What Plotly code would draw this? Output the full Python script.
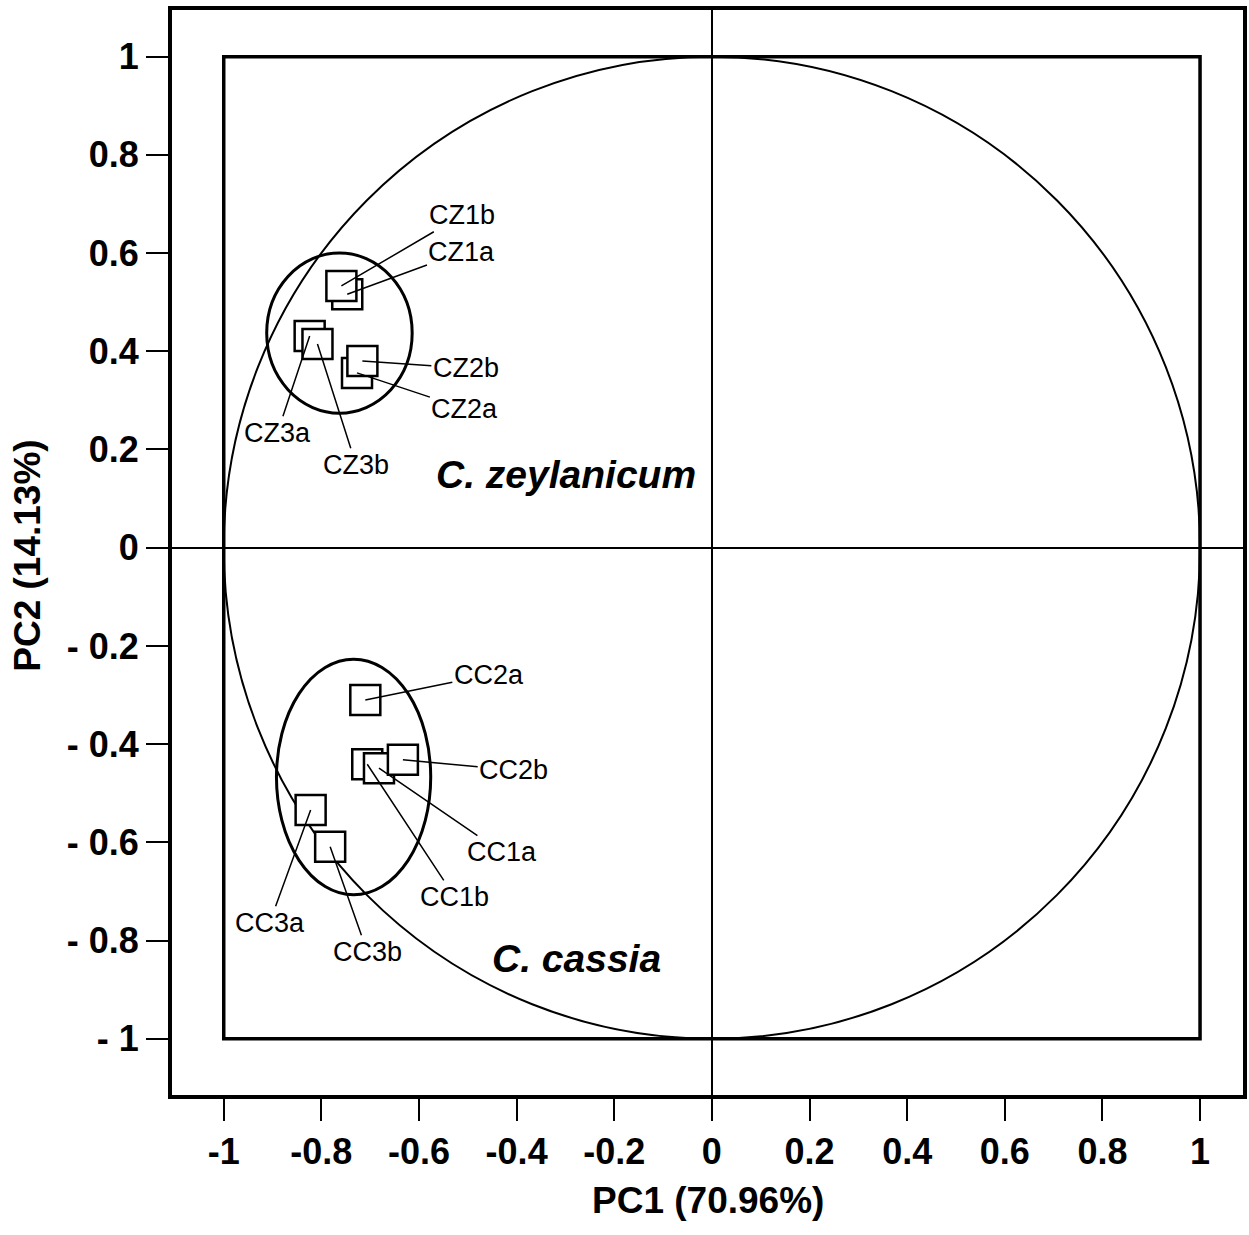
import plotly.graph_objects as go

# ---- data ----
sample_names = ["CZ1a", "CZ1b", "CZ2a", "CZ2b", "CZ3a", "CZ3b",
                "CC1b", "CC1a", "CC2b", "CC2a", "CC3a", "CC3b"]
pc1 = [-0.747, -0.759, -0.727, -0.716, -0.824, -0.808,
       -0.706, -0.682, -0.633, -0.710, -0.822, -0.782]
pc2 = [0.516, 0.533, 0.356, 0.380, 0.431, 0.415,
       -0.441, -0.449, -0.432, -0.310, -0.534, -0.609]
# label anchor positions (data units)
label_x = [-0.512, -0.512, -0.506, -0.504, -0.890, -0.729,
           -0.527, -0.431, -0.406, -0.457, -0.906, -0.706]
label_y = [0.602, 0.677, 0.283, 0.366, 0.234, 0.169,
           -0.711, -0.620, -0.453, -0.259, -0.764, -0.823]

# group ellipses (x0, x1, y0, y1)
group_names = ["C. zeylanicum", "C. cassia"]
group_ellipse_x0 = [-0.912, -0.892]
group_ellipse_x1 = [-0.614, -0.576]
group_ellipse_y0 = [0.274, -0.707]
group_ellipse_y1 = [0.600, -0.227]
group_label_x = [-0.298, -0.278]
group_label_y = [0.150, -0.836]

x_tickvals = [-1, -0.8, -0.6, -0.4, -0.2, 0, 0.2, 0.4, 0.6, 0.8, 1]
x_ticktext = ["-1", "-0.8", "-0.6", "-0.4", "-0.2", "0", "0.2", "0.4", "0.6", "0.8", "1"]
y_tickvals = [1, 0.8, 0.6, 0.4, 0.2, 0, -0.2, -0.4, -0.6, -0.8, -1]
y_ticktext = ["1", "0.8", "0.6", "0.4", "0.2", "0", "- 0.2", "- 0.4", "- 0.6", "- 0.8", "- 1"]

FONT = "Liberation Sans, Arial, sans-serif"

fig = go.Figure()

# unit circle and unit square
fig.add_shape(type="circle", xref="x", yref="y", x0=-1, y0=-1, x1=1, y1=1,
              line=dict(color="black", width=2), layer="below")
fig.add_shape(type="rect", xref="x", yref="y", x0=-1, y0=-1, x1=1, y1=1,
              line=dict(color="black", width=3.5), layer="below")

# group ellipses
for i in range(len(group_names)):
    fig.add_shape(type="circle", xref="x", yref="y",
                  x0=group_ellipse_x0[i], x1=group_ellipse_x1[i],
                  y0=group_ellipse_y0[i], y1=group_ellipse_y1[i],
                  line=dict(color="black", width=3), layer="below")

# sample markers (drawn one by one to keep overlap order)
for i in range(len(sample_names)):
    fig.add_trace(go.Scatter(
        x=[pc1[i]], y=[pc2[i]], mode="markers",
        marker=dict(symbol="square", size=30, color="white",
                    line=dict(color="black", width=2.5)),
        showlegend=False, hoverinfo="skip"))

# labels with leader lines
for i in range(len(sample_names)):
    fig.add_annotation(x=pc1[i], y=pc2[i], xref="x", yref="y",
                       ax=label_x[i], ay=label_y[i], axref="x", ayref="y",
                       text=sample_names[i], showarrow=True, arrowhead=0,
                       arrowwidth=1.5, arrowcolor="black", standoff=0,
                       font=dict(family=FONT, size=27, color="black"))

# species labels
for i in range(len(group_names)):
    fig.add_annotation(x=group_label_x[i], y=group_label_y[i], xref="x", yref="y",
                       text="<b><i>" + group_names[i] + "</i></b>", showarrow=False,
                       font=dict(family=FONT, size=39, color="black"))

# axis titles
fig.add_annotation(xref="paper", yref="paper", x=0.5, y=0, yanchor="middle",
                   xanchor="center", yshift=-105,
                   text="<b>PC1 (70.96%)</b>", showarrow=False,
                   font=dict(family=FONT, size=37, color="black"))
fig.add_annotation(xref="paper", yref="paper", x=0, y=0.497, xanchor="center",
                   yanchor="middle", xshift=-144,
                   text="<b>PC2 (14.13%)</b>", showarrow=False, textangle=-90,
                   font=dict(family=FONT, size=37, color="black"))

fig.update_xaxes(range=[-1.106, 1.088], tickmode="array", tickvals=x_tickvals,
                 ticktext=x_ticktext, ticks="outside", ticklen=22, tickwidth=2,
                 tickcolor="black", showline=True, mirror=True, linecolor="black",
                 linewidth=4, showgrid=False, zeroline=True, zerolinecolor="black",
                 zerolinewidth=1.5,
                 tickfont=dict(family=FONT, size=36, color="black", weight="bold"))
fig.update_yaxes(range=[-1.1146, 1.095], tickmode="array", tickvals=y_tickvals,
                 ticktext=y_ticktext, ticks="outside", ticklen=22, tickwidth=2,
                 tickcolor="black", showline=True, mirror=True, linecolor="black",
                 linewidth=4, showgrid=False, zeroline=True, zerolinecolor="black",
                 zerolinewidth=1.5,
                 tickfont=dict(family=FONT, size=36, color="black", weight="bold"))

fig.update_layout(width=1249, height=1235, plot_bgcolor="white", paper_bgcolor="white",
                  margin=dict(l=172, r=2, t=10, b=140), showlegend=False)

fig.write_html("out.html", config={"displayModeBar": False},
               post_script="document.body.style.margin='0';document.body.style.overflow='hidden';")
